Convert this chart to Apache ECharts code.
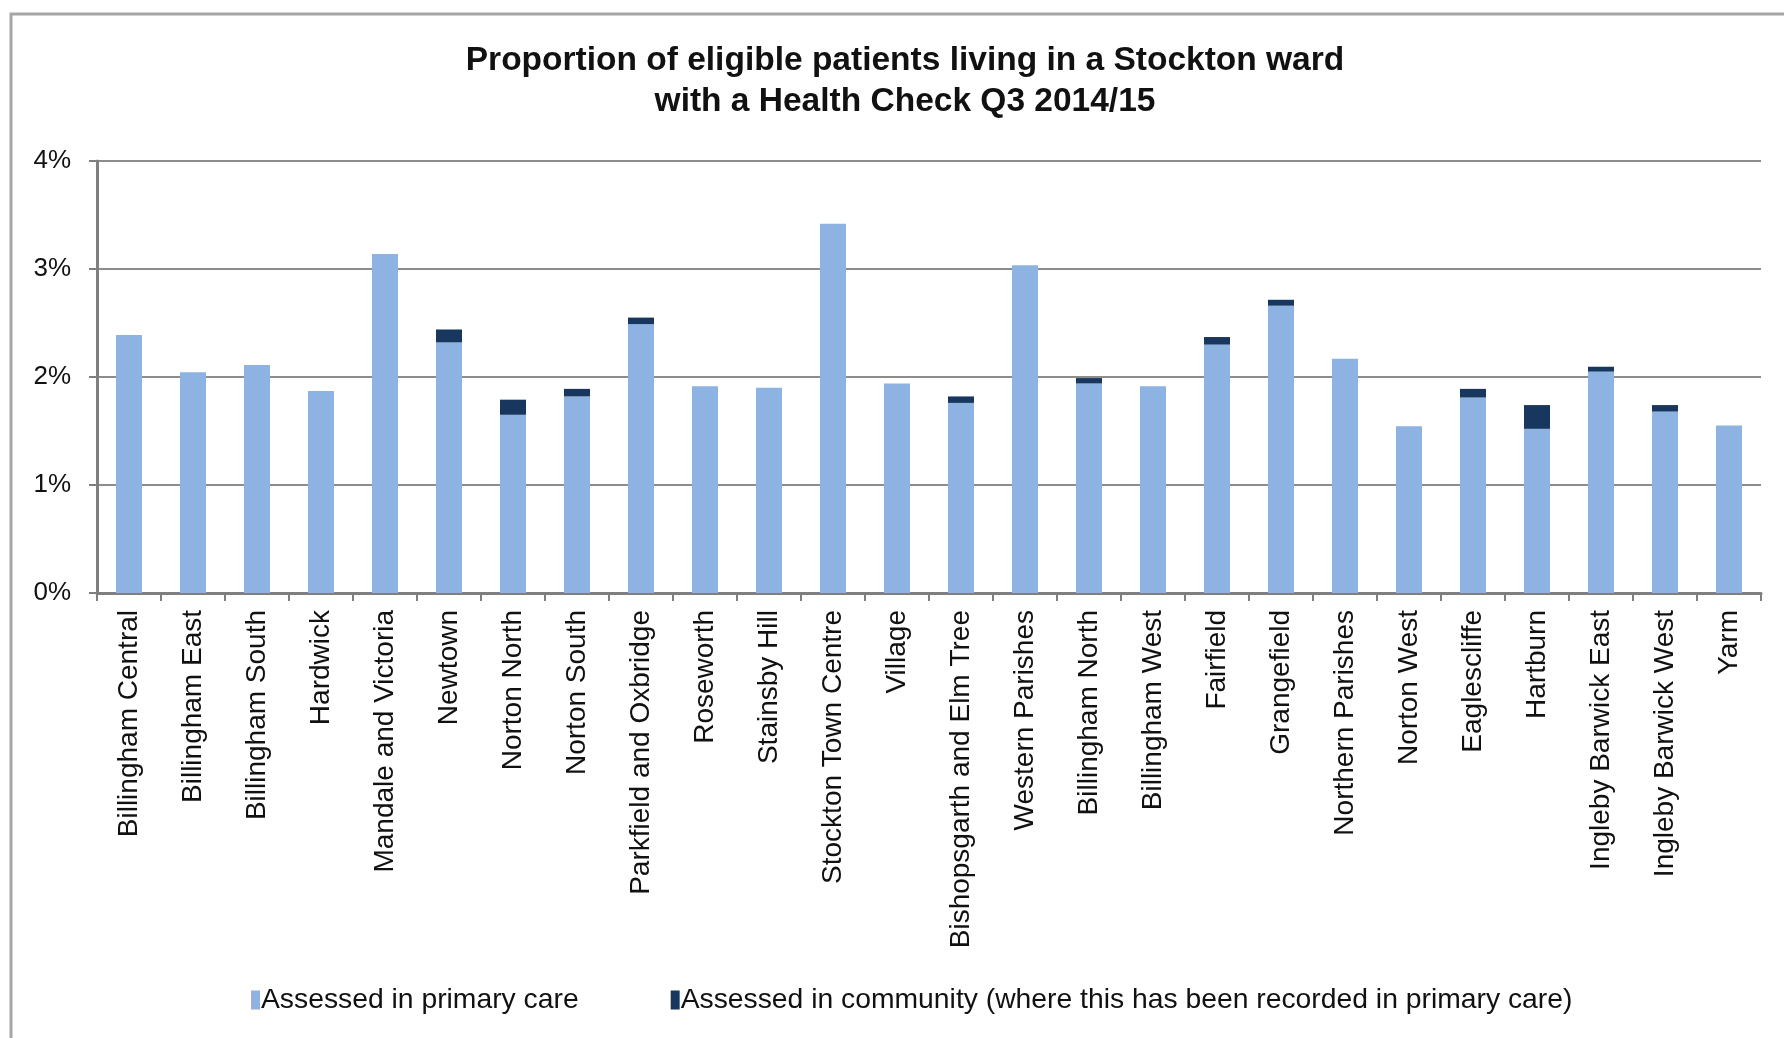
<!DOCTYPE html>
<html>
<head>
<meta charset="utf-8">
<script src="https://cdn.jsdelivr.net/npm/echarts@6/dist/echarts.min.js"></script>
<style>
html,body{margin:0;padding:0;background:#fff;}
#chart{width:1784px;height:1038px;}
</style>
</head>
<body>
<div id="chart"></div>
<script>
const titleText = 'Proportion of eligible patients living in a Stockton ward\nwith a Health Check Q3 2014/15';
const wards = ['Billingham Central','Billingham East','Billingham South','Hardwick','Mandale and Victoria','Newtown','Norton North','Norton South','Parkfield and Oxbridge','Roseworth','Stainsby Hill','Stockton Town Centre','Village','Bishopsgarth and Elm Tree','Western Parishes','Billingham North','Billingham West','Fairfield','Grangefield','Northern Parishes','Norton West','Eaglescliffe','Hartburn','Ingleby Barwick East','Ingleby Barwick West','Yarm'];
const seriesNames = ['Assessed in primary care','Assessed in community (where this has been recorded in primary care)'];
const primaryCare = [2.39,2.045,2.11,1.87,3.14,2.32,1.65,1.82,2.49,1.915,1.90,3.42,1.94,1.76,3.035,1.94,1.915,2.30,2.66,2.17,1.545,1.81,1.52,2.05,1.68,1.55];
const community =   [0,0,0,0,0,0.12,0.14,0.07,0.06,0,0,0,0,0.06,0,0.05,0,0.07,0.055,0,0,0.08,0.22,0.045,0.06,0];
const yTicks = [0,1,2,3,4];

const FONT = '"Liberation Sans", Arial, sans-serif';
const chart = echarts.init(document.getElementById('chart'), null, {renderer:'canvas'});
chart.setOption({
  animation:false,
  backgroundColor:'#ffffff',
  graphic:[{
    type:'rect', silent:true, z:-10,
    shape:{x:11, y:14, width:1900, height:1200},
    style:{fill:'none', stroke:'#a6a6a6', lineWidth:3}
  }],
  title:{
    text:titleText,
    left:905,
    textAlign:'center',
    top:40,
    padding:0,
    textStyle:{fontFamily:FONT, fontWeight:'bold', fontSize:33.5, lineHeight:41, color:'#111'}
  },
  legend:{
    left:246, top:981,
    itemWidth:9, itemHeight:19, itemGap:92,
    icon:'rect',
    textStyle:{fontFamily:FONT, fontSize:28.3, color:'#111', padding:[0,0,0,-4]},
    data:seriesNames
  },
  grid:{left:97, right:23, top:161, bottom:445, containLabel:false},
  xAxis:{
    type:'category',
    data:wards,
    boundaryGap:true,
    axisLine:{lineStyle:{color:'#7f7f7f', width:3}},
    axisTick:{show:true, alignWithLabel:false, length:8, lineStyle:{color:'#7f7f7f', width:2}},
    axisLabel:{rotate:90, interval:0, margin:17, fontFamily:FONT, fontSize:28, color:'#111'}
  },
  yAxis:{
    type:'value', min:yTicks[0], max:yTicks[yTicks.length-1], interval:1,
    axisLine:{show:true, lineStyle:{color:'#7f7f7f', width:3}},
    axisTick:{show:true, length:8, lineStyle:{color:'#7f7f7f', width:2}},
    splitLine:{lineStyle:{color:'#8c8c8c', width:2}},
    axisLabel:{formatter:'{value}%', margin:26, fontFamily:FONT, fontSize:26, color:'#111'}
  },
  series:[
    {name:seriesNames[0], type:'bar', stack:'t', data:primaryCare, barWidth:26,
     itemStyle:{color:'#8db3e2'}},
    {name:seriesNames[1], type:'bar', stack:'t', data:community, barWidth:26,
     itemStyle:{color:'#17375e'}}
  ]
});
</script>
</body>
</html>
